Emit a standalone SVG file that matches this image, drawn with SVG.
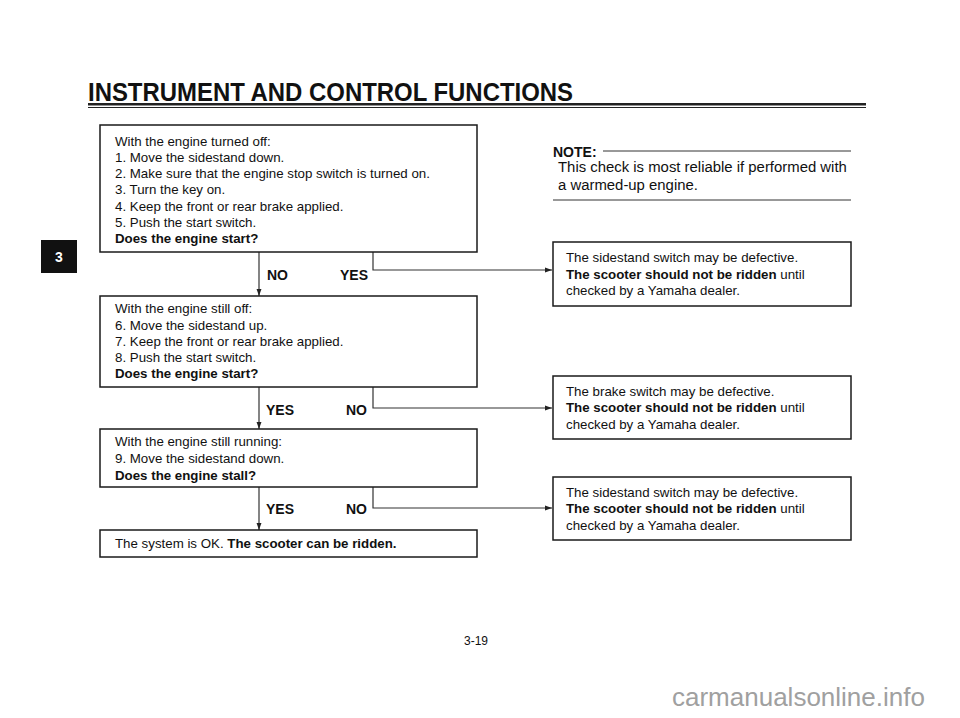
<svg xmlns="http://www.w3.org/2000/svg" width="960" height="718" viewBox="0 0 960 718">
<style>
.box{fill:#fff;stroke:#1a1a1a;stroke-width:1.5}
.t{font-family:"Liberation Sans",Arial,sans-serif;font-size:13.3px;fill:#111}
.b{font-weight:bold}
.lbl{font-family:"Liberation Sans",Arial,sans-serif;font-size:14px;font-weight:bold;fill:#111}
.con{fill:none;stroke:#333;stroke-width:1.2}
</style>
<defs>
<marker id="ah" viewBox="0 0 10 10" refX="10" refY="5" markerWidth="7" markerHeight="7" markerUnits="userSpaceOnUse" orient="auto">
<path d="M0,1.5 L10,5 L0,8.5 Z" fill="#222"/>
</marker>
</defs>
<rect width="960" height="718" fill="#fff"/>
<g id="header">
<text x="88" y="101" font-family="'Liberation Sans',Arial,sans-serif" font-size="25" font-weight="bold" textLength="485" lengthAdjust="spacingAndGlyphs" fill="#111">INSTRUMENT AND CONTROL FUNCTIONS</text>
<rect x="88" y="103" width="778" height="2.5" fill="#222"/>
<rect x="88" y="107" width="778" height="1" fill="#222"/>
</g>
<g id="tab">
<rect x="41" y="240" width="36" height="33" fill="#111"/>
<text x="59" y="262" text-anchor="middle" font-family="'Liberation Sans',Arial,sans-serif" font-size="14" font-weight="bold" fill="#fff">3</text>
</g>
<g id="note">
<text x="553" y="157" font-family="'Liberation Sans',Arial,sans-serif" font-size="14" font-weight="bold" fill="#111">NOTE:</text>
<line x1="603" y1="151" x2="851" y2="151" stroke="#333" stroke-width="1"/>
<text x="558" y="172" font-family="'Liberation Sans',Arial,sans-serif" font-size="14.9" fill="#111">This check is most reliable if performed with</text>
<text x="558" y="190" font-family="'Liberation Sans',Arial,sans-serif" font-size="14.9" fill="#111">a warmed-up engine.</text>
<line x1="553" y1="200" x2="851" y2="200" stroke="#333" stroke-width="1"/>
</g>
<g id="connectors">
<line class="con" x1="259" y1="252" x2="259" y2="296" marker-end="url(#ah)"/>
<polyline class="con" points="373,252 373,270 552,270" marker-end="url(#ah)"/>
<line class="con" x1="259" y1="387" x2="259" y2="429" marker-end="url(#ah)"/>
<polyline class="con" points="373,387 373,408 552,408" marker-end="url(#ah)"/>
<line class="con" x1="259" y1="487" x2="259" y2="530" marker-end="url(#ah)"/>
<polyline class="con" points="373,487 373,508 552,508" marker-end="url(#ah)"/>
<text class="lbl" x="267" y="280">NO</text>
<text class="lbl" x="340" y="280">YES</text>
<text class="lbl" x="266" y="415">YES</text>
<text class="lbl" x="346" y="415">NO</text>
<text class="lbl" x="266" y="514">YES</text>
<text class="lbl" x="346" y="514">NO</text>
</g>
<g id="box1">
<rect class="box" x="100" y="125" width="377" height="127"/>
<text class="t" x="115" y="146">With the engine turned off:</text>
<text class="t" x="115" y="162">1. Move the sidestand down.</text>
<text class="t" x="115" y="178">2. Make sure that the engine stop switch is turned on.</text>
<text class="t" x="115" y="194">3. Turn the key on.</text>
<text class="t" x="115" y="211">4. Keep the front or rear brake applied.</text>
<text class="t" x="115" y="227">5. Push the start switch.</text>
<text class="t b" x="115" y="243">Does the engine start?</text>
</g>
<g id="box2">
<rect class="box" x="100" y="296" width="377" height="91"/>
<text class="t" x="115" y="313">With the engine still off:</text>
<text class="t" x="115" y="330">6. Move the sidestand up.</text>
<text class="t" x="115" y="346">7. Keep the front or rear brake applied.</text>
<text class="t" x="115" y="362">8. Push the start switch.</text>
<text class="t b" x="115" y="378">Does the engine start?</text>
</g>
<g id="box3">
<rect class="box" x="100" y="429" width="377" height="58"/>
<text class="t" x="115" y="446">With the engine still running:</text>
<text class="t" x="115" y="463">9. Move the sidestand down.</text>
<text class="t b" x="115" y="480">Does the engine stall?</text>
</g>
<g id="box4">
<rect class="box" x="100" y="530" width="377" height="27"/>
<text class="t" x="115" y="548">The system is OK. <tspan class="b">The scooter can be ridden.</tspan></text>
</g>
<g id="result1">
<rect class="box" x="553" y="242" width="298" height="64"/>
<text class="t" x="566" y="262">The sidestand switch may be defective.</text>
<text class="t" x="566" y="279"><tspan class="b">The scooter should not be ridden</tspan> until</text>
<text class="t" x="566" y="295">checked by a Yamaha dealer.</text>
</g>
<g id="result2">
<rect class="box" x="553" y="376" width="298" height="63"/>
<text class="t" x="566" y="396">The brake switch may be defective.</text>
<text class="t" x="566" y="412"><tspan class="b">The scooter should not be ridden</tspan> until</text>
<text class="t" x="566" y="429">checked by a Yamaha dealer.</text>
</g>
<g id="result3">
<rect class="box" x="553" y="477" width="298" height="63"/>
<text class="t" x="566" y="497">The sidestand switch may be defective.</text>
<text class="t" x="566" y="513"><tspan class="b">The scooter should not be ridden</tspan> until</text>
<text class="t" x="566" y="530">checked by a Yamaha dealer.</text>
</g>
<g id="footer">
<text x="464" y="645" font-family="'Liberation Sans',Arial,sans-serif" font-size="12" fill="#111">3-19</text>
<text x="672" y="706" font-family="'Liberation Sans',Arial,sans-serif" font-size="26" fill="#a0a0a0">carmanualsonline.info</text>
</g>
</svg>
